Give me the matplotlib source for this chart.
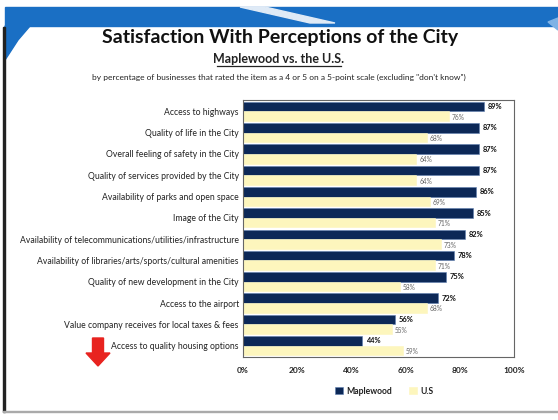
import matplotlib.pyplot as plt
import numpy as np
from matplotlib.patches import Polygon, Rectangle, FancyArrow

plt.rcParams['font.family'] = ['Lato', 'DejaVu Sans']

# Survey items and results (percent rating 4 or 5)
items = [
    "Access to highways",
    "Quality of life in the City",
    "Overall feeling of safety in the City",
    "Quality of services provided by the City",
    "Availability of parks and open space",
    "Image of the City",
    "Availability of telecommunications/utilities/infrastructure",
    "Availability of libraries/arts/sports/cultural amenities",
    "Quality of new development in the City",
    "Access to the airport",
    "Value company receives for local taxes & fees",
    "Access to quality housing options",
]
maplewood = [89, 87, 87, 87, 86, 85, 82, 78, 75, 72, 56, 44]
us = [76, 68, 64, 64, 69, 71, 73, 71, 58, 68, 55, 59]
x_ticks = [0, 20, 40, 60, 80, 100]

navy = "#0c2857"
cream = "#fdf6bd"

W, H = 558, 420
fig = plt.figure(figsize=(W / 100, H / 100), dpi=100)
fig.patch.set_facecolor("white")


def px(x, y):
    return (x / W, 1 - y / H)


# Slide frame decoration
blue = "#1a6fc4"
fig.patches.append(Polygon([px(5, 7), px(558, 7), px(558, 26), px(5, 26)],
                           closed=True, transform=fig.transFigure, color=blue, zorder=0))
fig.patches.append(Polygon([px(5, 26), px(30, 26), px(18, 40), px(5, 60)],
                           closed=True, transform=fig.transFigure, color=blue, zorder=0))
fig.patches.append(Polygon([px(240, 7), px(265, 7), px(335, 23), px(310, 23)],
                           closed=True, transform=fig.transFigure, color="#dfeaf6", zorder=0))
fig.patches.append(Polygon([px(548, 22), px(558, 18), px(558, 30)],
                           closed=True, transform=fig.transFigure, color="#7fb2e5", zorder=0))
fig.patches.append(Rectangle(px(3, 412), 2 / W, 385 / H, transform=fig.transFigure,
                             color="#222222", zorder=0))
fig.patches.append(Rectangle(px(3, 412), 555 / W, 1.5 / H, transform=fig.transFigure,
                             color="#aaaaaa", zorder=0))

# Titles
fig.text(280 / W, 1 - 38 / H, "Satisfaction With Perceptions of the City",
         ha="center", va="center", fontsize=14, fontweight="bold", color="#111111")
fig.text(279 / W, 1 - 59 / H, "Maplewood vs. the U.S.",
         ha="center", va="center", fontsize=9, fontweight="bold", color="#222222")
fig.add_artist(plt.Line2D([217 / W, 341 / W], [1 - 66 / H, 1 - 66 / H],
                          color="#222222", lw=0.9))
fig.text(279 / W, 1 - 77 / H,
         "by percentage of businesses that rated the item as a 4 or 5 on a 5-point scale (excluding \"don't know\")",
         ha="center", va="center", fontsize=6.0, color="#222222")

# Bar chart
ax = fig.add_axes([243 / W, 1 - 357 / H, 271 / W, 257 / H])
y = np.arange(len(items))
h = 0.45
ax.barh(y - h / 2, maplewood, height=h, color=navy, edgecolor="#5f7fb0", lw=0.4, label="Maplewood")
ax.barh(y + h / 2, us, height=h, color=cream, edgecolor=cream, lw=0.4, label="U.S")

for yi, m, u in zip(y, maplewood, us):
    ax.text(m + 1.3, yi - h / 2, f"{m}%", va="center", ha="left",
            fontsize=5.4, fontweight="bold", color="#111111")
    ax.text(u + 1.0, yi + h / 2 + 0.05, f"{u}%", va="center", ha="left",
            fontsize=4.8, color="#666666")

ax.set_xlim(0, 100)
ax.set_ylim(len(items) - 0.5 + 0.03, -0.5 - 0.03)
ax.set_xticks(x_ticks)
ax.set_xticklabels([f"{t}%" for t in x_ticks], fontsize=6, fontweight="bold", color="#222222")
ax.set_yticks(y)
ax.set_yticklabels(items, fontsize=6.2, color="#222222")
ax.tick_params(axis="both", length=0, pad=3)
ax.tick_params(axis="x", pad=7)
for s in ax.spines.values():
    s.set_color("#666666")
    s.set_linewidth(0.8)

leg = ax.legend(loc="upper center", bbox_to_anchor=(0.52, -0.085), ncol=2, frameon=False,
                fontsize=6.2, handlelength=1.0, handleheight=0.9, columnspacing=2.0,
                handletextpad=0.3)
for t in leg.get_texts():
    t.set_fontweight("bold")
    t.set_color("#222222")

# Red down arrow next to the housing item
fig.patches.append(FancyArrow(98 / W, 1 - 338 / H, 0, -28 / H, width=11 / W,
                              head_width=24 / W, head_length=13 / H, length_includes_head=True,
                              transform=fig.transFigure, color="#e8231f", zorder=3))

fig.savefig("out.png", dpi=100)
